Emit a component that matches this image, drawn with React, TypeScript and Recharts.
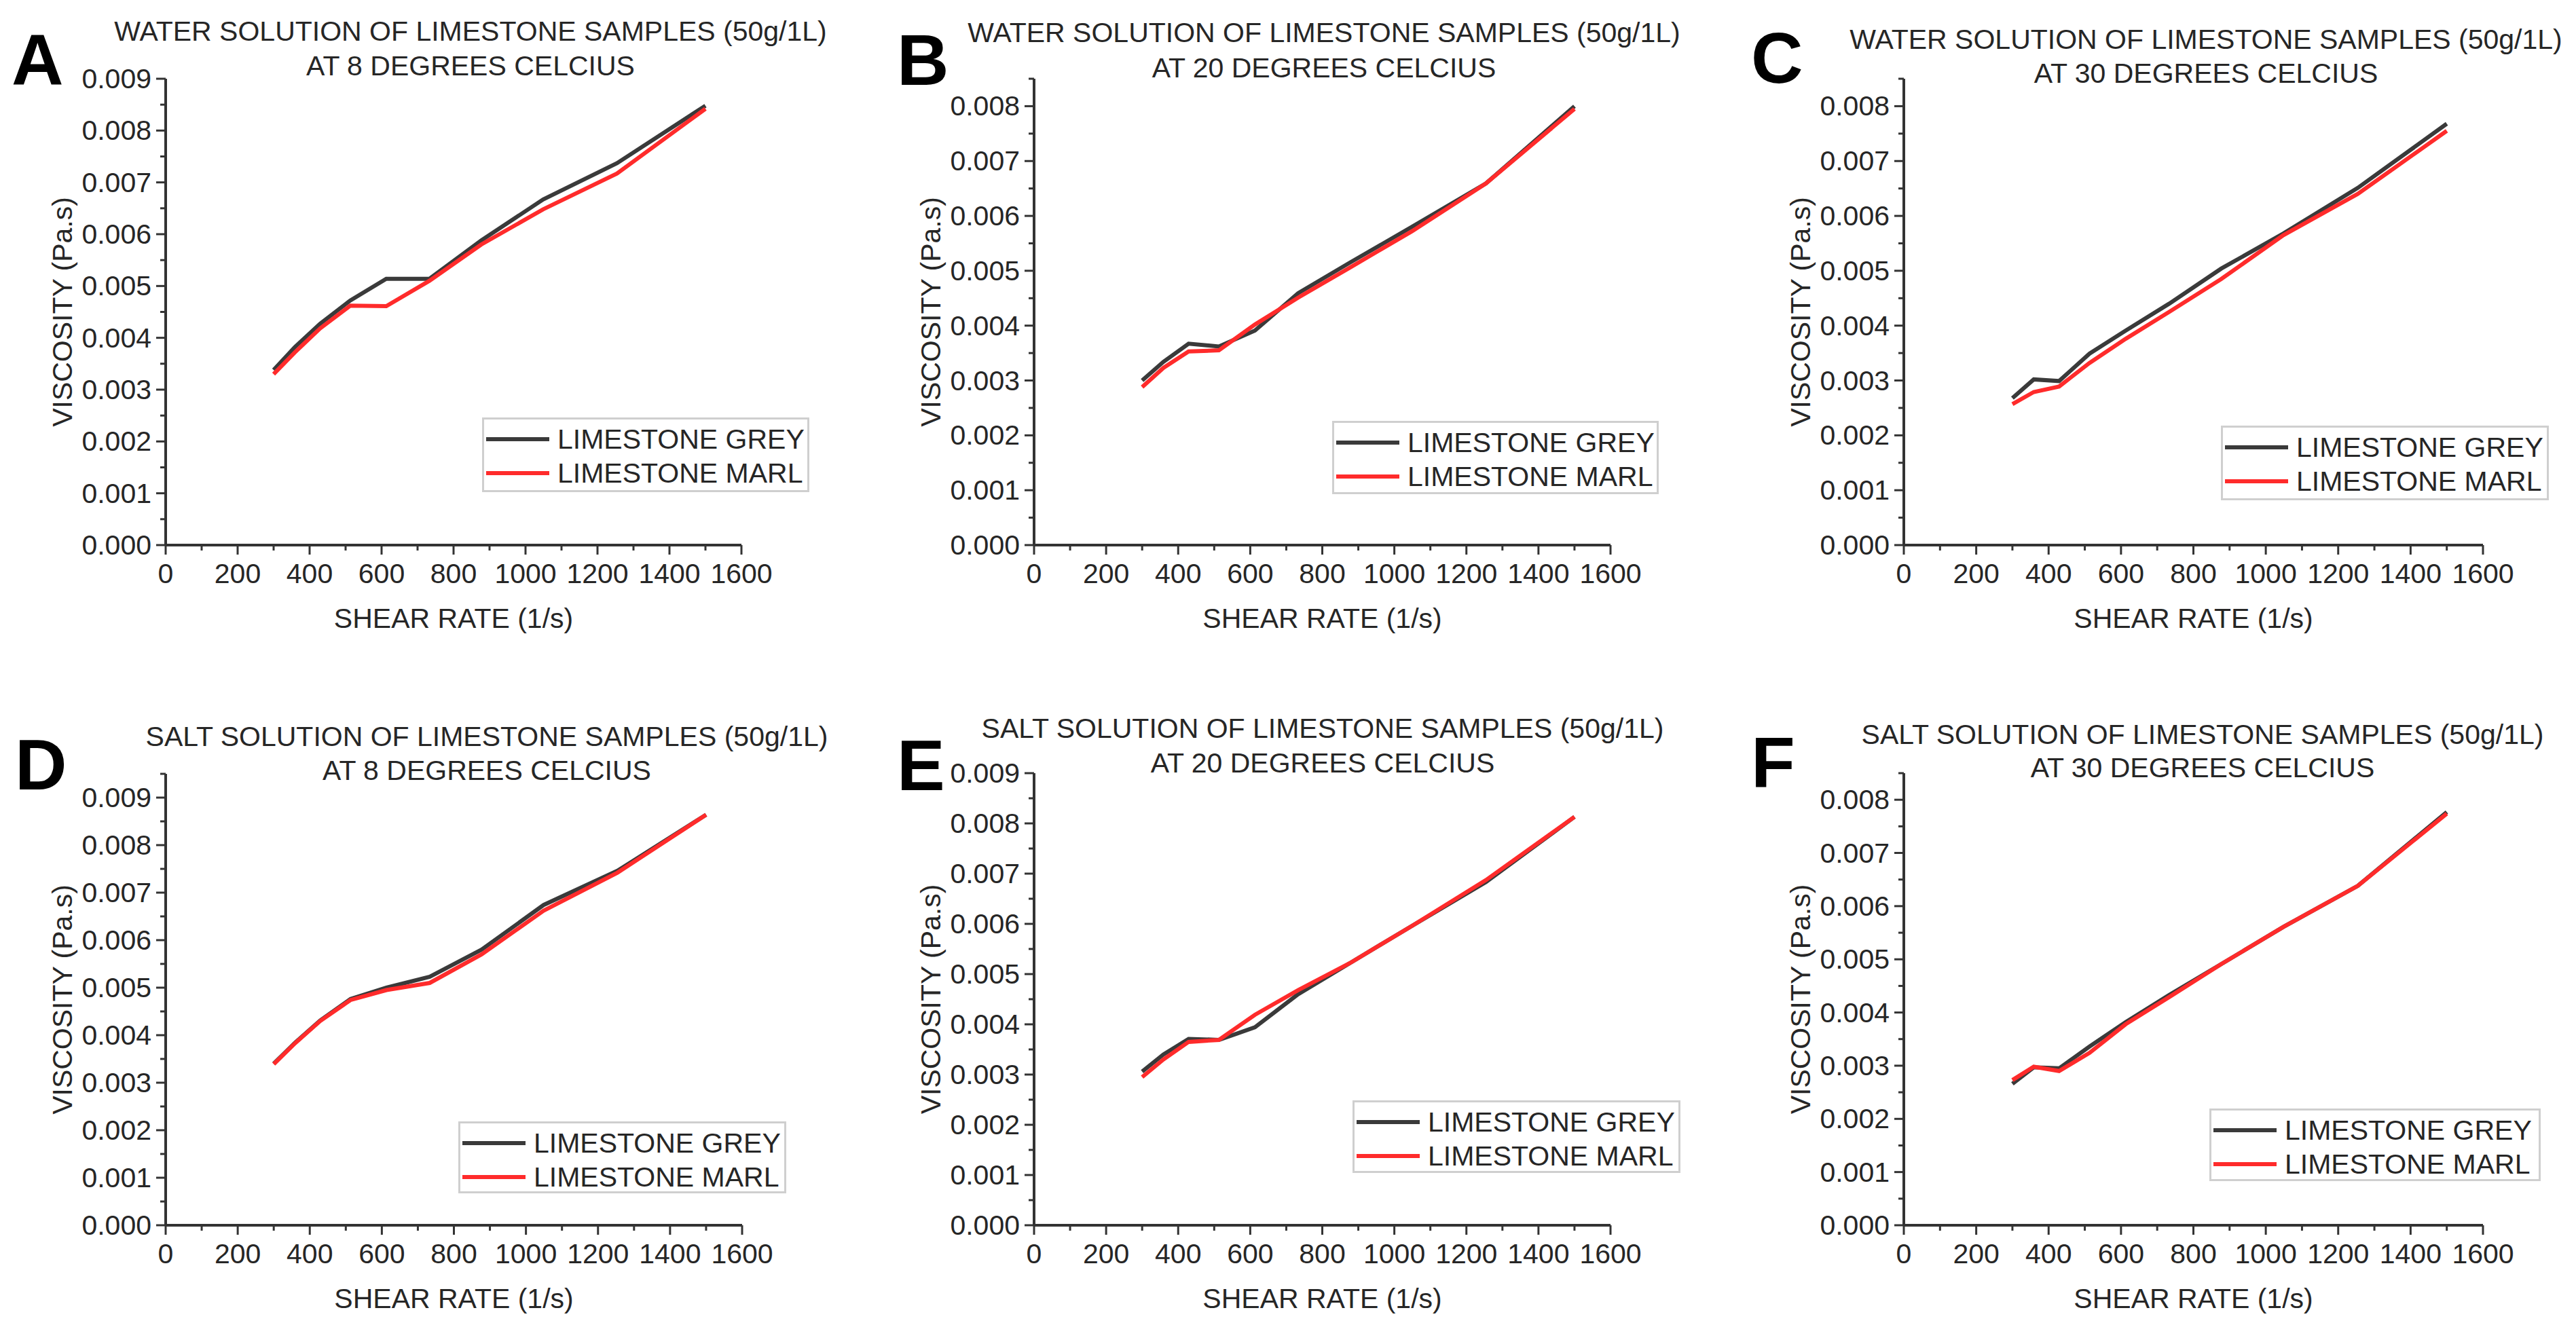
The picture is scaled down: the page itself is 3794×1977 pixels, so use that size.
import { LineChart, Line, XAxis, YAxis, Legend } from 'recharts'

// shear rate steps (1/s), same for all six runs
const SHEAR = [300, 359, 429, 513, 613, 733, 877, 1049, 1254, 1500]

// viscosity (Pa.s)
const A_GREY = [0.00338, 0.00382, 0.00427, 0.00472, 0.00514, 0.00514, 0.00588, 0.00667, 0.00737, 0.00848]
const A_MARL = [0.0033, 0.00372, 0.00418, 0.00462, 0.00461, 0.0051, 0.0058, 0.00648, 0.00717, 0.00842]
const B_GREY = [0.003, 0.00334, 0.00367, 0.00362, 0.00391, 0.00459, 0.00515, 0.0058, 0.00659, 0.008]
const B_MARL = [0.00288, 0.00323, 0.00353, 0.00355, 0.00402, 0.00451, 0.00506, 0.00572, 0.00659, 0.00795]
const C_GREY = [0.00268, 0.00302, 0.00299, 0.00349, 0.00391, 0.0044, 0.00504, 0.00568, 0.00651, 0.00768]
const C_MARL = [0.00257, 0.00279, 0.00289, 0.00332, 0.00376, 0.00425, 0.00485, 0.00565, 0.0064, 0.00755]
const D_GREY = [0.0034, 0.00384, 0.00431, 0.00476, 0.005, 0.00523, 0.0058, 0.00674, 0.00746, 0.00864]
const D_MARL = [0.00339, 0.00383, 0.0043, 0.00474, 0.00495, 0.0051, 0.0057, 0.00662, 0.00742, 0.00864]
const E_GREY = [0.00306, 0.0034, 0.00371, 0.00369, 0.00394, 0.0046, 0.00522, 0.00596, 0.00683, 0.00813]
const E_MARL = [0.00295, 0.0033, 0.00365, 0.00369, 0.00419, 0.00468, 0.00522, 0.00596, 0.00687, 0.00813]
const F_GREY = [0.00266, 0.00297, 0.00295, 0.00336, 0.00382, 0.00433, 0.00491, 0.00561, 0.00638, 0.00777]
const F_MARL = [0.00273, 0.00298, 0.0029, 0.00324, 0.00378, 0.00429, 0.00491, 0.00561, 0.00638, 0.00774]

const X_TICKS = [0, 100, 200, 300, 400, 500, 600, 700, 800, 900, 1000, 1100, 1200, 1300, 1400, 1500, 1600]
const Y_TICKS_85 = [0, 0.0005, 0.001, 0.0015, 0.002, 0.0025, 0.003, 0.0035, 0.004, 0.0045, 0.005, 0.0055, 0.006, 0.0065, 0.007, 0.0075, 0.008, 0.0085]
const Y_TICKS_90 = [...Y_TICKS_85, 0.009]
const Y_TICKS_95 = [...Y_TICKS_90, 0.0095]

const SERIES_NAMES = ['LIMESTONE GREY', 'LIMESTONE MARL']
const WATER = 'WATER SOLUTION OF LIMESTONE SAMPLES (50g/1L)'
const SALT = 'SALT SOLUTION OF LIMESTONE SAMPLES (50g/1L)'

const FONT = '"Liberation Sans", Arial, Helvetica, sans-serif'
const INK = '#262626'
const AXIS = '#333'
const GREY = '#3a3a3a'
const RED = '#ff2b2b'
const FS = 41

const YW = 220 // y axis box width
const XH = 160 // x axis box height
const MT = 30
const MR = 100

// layout of each panel in page pixels (plot box l/r/t/b)
const PANELS = [
  { id: 'A', l: 244, r: 1092, t: 116, b: 803, yMax: 0.009, yTicks: Y_TICKS_90, t1: WATER, t2: 'AT 8 DEGREES CELCIUS', tx: 693, ty1: 46, ty2: 97, lx: 17, lb: 125, leg: { x: 710, y: 615, w: 482, h: 110 }, grey: A_GREY, marl: A_MARL },
  { id: 'B', l: 1523, r: 2372, t: 116, b: 803, yMax: 0.0085, yTicks: Y_TICKS_85, t1: WATER, t2: 'AT 20 DEGREES CELCIUS', tx: 1950, ty1: 48, ty2: 100, lx: 1321, lb: 125, leg: { x: 1962, y: 620, w: 481, h: 108 }, grey: B_GREY, marl: B_MARL },
  { id: 'C', l: 2804, r: 3657, t: 116, b: 803, yMax: 0.0085, yTicks: Y_TICKS_85, t1: WATER, t2: 'AT 30 DEGREES CELCIUS', tx: 3249, ty1: 58, ty2: 108, lx: 2579, lb: 122, leg: { x: 3271, y: 627, w: 483, h: 110 }, grey: C_GREY, marl: C_MARL },
  { id: 'D', l: 244, r: 1093, t: 1140, b: 1805, yMax: 0.0095, yTicks: Y_TICKS_95, t1: SALT, t2: 'AT 8 DEGREES CELCIUS', tx: 717, ty1: 1085, ty2: 1135, lx: 22, lb: 1163, leg: { x: 675, y: 1652, w: 483, h: 106 }, grey: D_GREY, marl: D_MARL },
  { id: 'E', l: 1523, r: 2372, t: 1139, b: 1805, yMax: 0.009, yTicks: Y_TICKS_90, t1: SALT, t2: 'AT 20 DEGREES CELCIUS', tx: 1948, ty1: 1073, ty2: 1124, lx: 1321, lb: 1164, leg: { x: 1992, y: 1621, w: 483, h: 107 }, grey: E_GREY, marl: E_MARL },
  { id: 'F', l: 2804, r: 3657, t: 1139, b: 1805, yMax: 0.0085, yTicks: Y_TICKS_85, t1: SALT, t2: 'AT 30 DEGREES CELCIUS', tx: 3244, ty1: 1082, ty2: 1131, lx: 2579, lb: 1160, leg: { x: 3254, y: 1633, w: 488, h: 107 }, grey: F_GREY, marl: F_MARL },
]

const textStyle = { fontFamily: FONT, fontSize: FS, fill: INK }

function XTick(props: any) {
  const { x, y, payload } = props
  const major = payload.value % 200 === 0
  return (
    <g>
      <line x1={x} x2={x} y1={y} y2={y + (major ? 14 : 8)} stroke={AXIS} strokeWidth={3} />
      {major && (
        <text x={x} y={y + 42} textAnchor="middle" dominantBaseline="central" style={textStyle}>
          {payload.value}
        </text>
      )}
    </g>
  )
}

function YTick(props: any) {
  const { x, y, payload } = props
  const major = Math.round(payload.value * 2000) % 2 === 0
  return (
    <g>
      <line x1={x} x2={x - (major ? 14 : 8)} y1={y} y2={y} stroke={AXIS} strokeWidth={3} />
      {major && (
        <text x={x - 21} y={y} textAnchor="end" dominantBaseline="central" style={textStyle}>
          {payload.value.toFixed(3)}
        </text>
      )}
    </g>
  )
}

function LegendBox({ payload, w, h }: any) {
  return (
    <div style={{ position: 'relative', width: w, height: h, boxSizing: 'border-box', border: '3px solid #cfcfcf', background: '#fff', fontFamily: FONT, fontSize: FS, color: INK }}>
      {(payload || []).map((e: any, i: number) => (
        <div key={i} style={{ position: 'absolute', left: 0, top: 29 + i * 50 - 25, height: 50, display: 'flex', alignItems: 'center', whiteSpace: 'nowrap' }}>
          <span style={{ display: 'block', width: 93, height: 6, marginLeft: 3, background: e.color }} />
          <span style={{ marginLeft: 12, lineHeight: 1 }}>{e.value}</span>
        </div>
      ))}
    </div>
  )
}

function Panel({ p }: any) {
  const left = p.l - YW
  const top = p.t - MT
  const width = p.r - p.l + YW + MR
  const height = p.b - p.t + MT + XH
  const data = SHEAR.map((x, i) => ({ x, grey: p.grey[i], marl: p.marl[i] }))
  return (
    <div style={{ position: 'absolute', left, top }}>
      <LineChart width={width} height={height} data={data} margin={{ top: MT, right: MR, bottom: 0, left: 0 }}>
        <XAxis
          type="number"
          dataKey="x"
          domain={[0, 1600]}
          ticks={X_TICKS}
          interval={0}
          height={XH}
          tickSize={0}
          tickMargin={0}
          tickLine={false}
          axisLine={{ stroke: AXIS, strokeWidth: 4 }}
          tick={<XTick />}
          label={{ value: 'SHEAR RATE (1/s)', position: 'insideBottom', offset: 38, style: { ...textStyle, textAnchor: 'middle' } }}
        />
        <YAxis
          type="number"
          domain={[0, p.yMax]}
          ticks={p.yTicks}
          interval={0}
          width={YW}
          tickSize={0}
          tickMargin={0}
          tickLine={false}
          axisLine={{ stroke: AXIS, strokeWidth: 4 }}
          tick={<YTick />}
          label={{ value: 'VISCOSITY (Pa.s)', angle: -90, position: 'insideLeft', offset: YW - 153, style: { ...textStyle, textAnchor: 'middle' } }}
        />
        <Legend
          layout="horizontal"
          verticalAlign="middle"
          align="center"
          wrapperStyle={{ left: p.leg.x - left, top: p.leg.y - top, width: p.leg.w, height: p.leg.h }}
          content={(props: any) => <LegendBox payload={props.payload} w={p.leg.w} h={p.leg.h} />}
        />
        <Line type="linear" dataKey="grey" name={SERIES_NAMES[0]} stroke={GREY} strokeWidth={6} dot={false} isAnimationActive={false} />
        <Line type="linear" dataKey="marl" name={SERIES_NAMES[1]} stroke={RED} strokeWidth={6} dot={false} isAnimationActive={false} />
      </LineChart>
    </div>
  )
}

export default function App() {
  return (
    <div style={{ position: 'absolute', left: 0, top: 0, width: 3794, height: 1977, background: '#fff', overflow: 'hidden' }}>
      {PANELS.map((p) => <Panel key={p.id} p={p} />)}
      <svg width={3794} height={1977} style={{ position: 'absolute', left: 0, top: 0, pointerEvents: 'none' }}>
        {PANELS.map((p) => (
          <g key={p.id}>
            <text x={p.lx} y={p.lb} style={{ fontFamily: FONT, fontSize: 106, fontWeight: 700, fill: '#000' }}>{p.id}</text>
            <text x={p.tx} y={p.ty1} textAnchor="middle" dominantBaseline="central" style={textStyle}>{p.t1}</text>
            <text x={p.tx} y={p.ty2} textAnchor="middle" dominantBaseline="central" style={textStyle}>{p.t2}</text>
          </g>
        ))}
      </svg>
    </div>
  )
}
